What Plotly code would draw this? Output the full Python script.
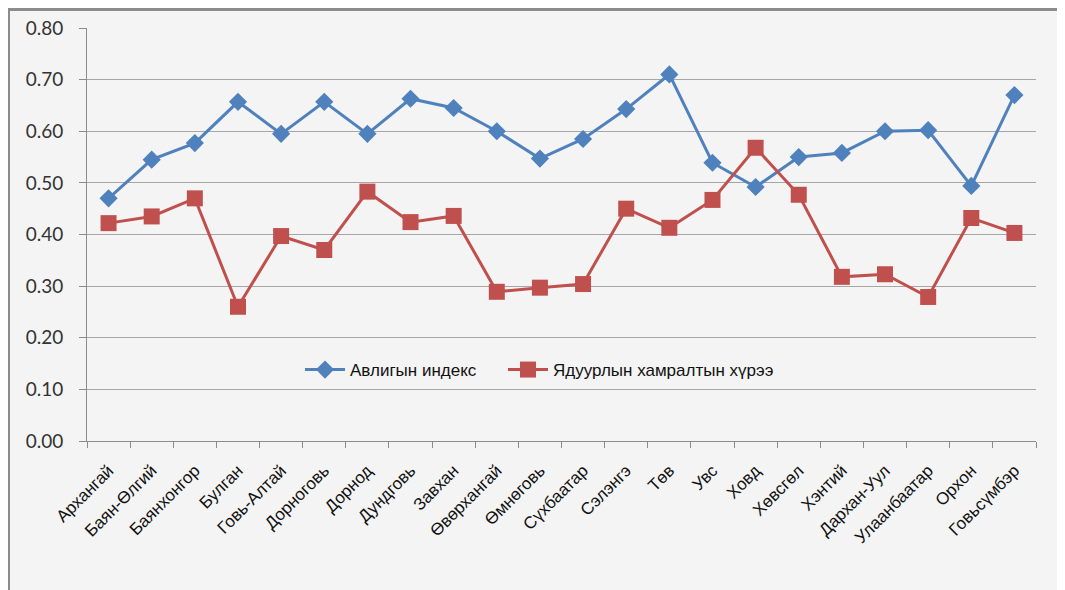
import plotly.graph_objects as go

regions = ["Архангай", "Баян-Өлгий", "Баянхонгор", "Булган", "Говь-Алтай", "Дорноговь",
           "Дорнод", "Дундговь", "Завхан", "Өвөрхангай", "Өмнөговь", "Сүхбаатар",
           "Сэлэнгэ", "Төв", "Увс", "Ховд", "Хөвсгөл", "Хэнтий", "Дархан-Уул",
           "Улаанбаатар", "Орхон", "Говьсүмбэр"]
corruption_index = [0.470, 0.545, 0.577, 0.657, 0.595, 0.657, 0.595, 0.663, 0.645, 0.600, 0.547,
                    0.585, 0.643, 0.710, 0.539, 0.492, 0.550, 0.558, 0.600, 0.602, 0.494, 0.670]
poverty_rate = [0.422, 0.435, 0.470, 0.260, 0.397, 0.370, 0.483, 0.424, 0.436, 0.289, 0.297,
                0.304, 0.450, 0.413, 0.467, 0.568, 0.477, 0.318, 0.323, 0.279, 0.432, 0.403]
y_ticks = [0.0, 0.1, 0.2, 0.3, 0.4, 0.5, 0.6, 0.7, 0.8]

fig = go.Figure()
fig.add_trace(go.Scatter(
    x=regions, y=corruption_index, name="Авлигын индекс", mode="lines+markers",
    line=dict(color="#4f81bd", width=3),
    marker=dict(symbol="diamond", size=14, color="#4f81bd"),
    legend="legend",
))
fig.add_trace(go.Scatter(
    x=regions, y=poverty_rate, name="Ядуурлын хамралтын хүрээ", mode="lines+markers",
    line=dict(color="#c0504d", width=3),
    marker=dict(symbol="square", size=16, color="#c0504d"),
    legend="legend2",
))

L, R, T, B = 79, 37, 20, 157
W, H = 1065, 590
pw, ph = W - L - R, H - T - B

def px2x(px):
    return (px - L) / pw

def px2y(py):
    return (H - B - py) / ph

# frame: left and top edges
fig.add_shape(type="line", xref="paper", yref="paper",
              x0=px2x(1), x1=px2x(1), y0=px2y(H), y1=px2y(1),
              line=dict(color="#8c8c8c", width=2), layer="below")
fig.add_shape(type="line", xref="paper", yref="paper",
              x0=px2x(0), x1=px2x(W), y0=px2y(1.5), y1=px2y(1.5),
              line=dict(color="#8c8c8c", width=3), layer="below")

legend_font = dict(family="Liberation Sans, Arial", size=17, color="#111")
fig.update_layout(
    width=W, height=H,
    margin=dict(l=L, r=R, t=T, b=B, autoexpand=False),
    paper_bgcolor="#f4f4f4", plot_bgcolor="#f4f4f4",
    showlegend=True,
    legend=dict(orientation="h", x=px2x(292), xanchor="left", y=px2y(362), yanchor="middle",
                itemwidth=40, bgcolor="rgba(0,0,0,0)", font=legend_font),
    legend2=dict(orientation="h", x=px2x(495), xanchor="left", y=px2y(362), yanchor="middle",
                 itemwidth=40, bgcolor="rgba(0,0,0,0)", font=legend_font),
    xaxis=dict(range=[-0.5, len(regions) - 0.5], tickangle=-45, showgrid=False,
               showline=True, linecolor="#8c8c8c", linewidth=1,
               ticks="outside", tickson="boundaries", ticklen=6, tickcolor="#8c8c8c",
               ticklabelstandoff=12,
               tickfont=dict(family="Liberation Sans, Arial", size=17, color="#111")),
    yaxis=dict(range=[0, 0.8], tickvals=y_ticks, tickformat=".2f",
               showgrid=True, gridcolor="#a6a6a6", gridwidth=1,
               showline=True, linecolor="#8c8c8c", linewidth=1,
               ticks="outside", ticklen=7, tickcolor="#8c8c8c", zeroline=False,
               ticklabelstandoff=12,
               tickfont=dict(family="Lato, Open Sans", size=19, color="#333")),
)

fig.write_html("out.html",
               post_script="document.documentElement.style.overflow='hidden';"
                           "document.body.style.overflow='hidden';")
